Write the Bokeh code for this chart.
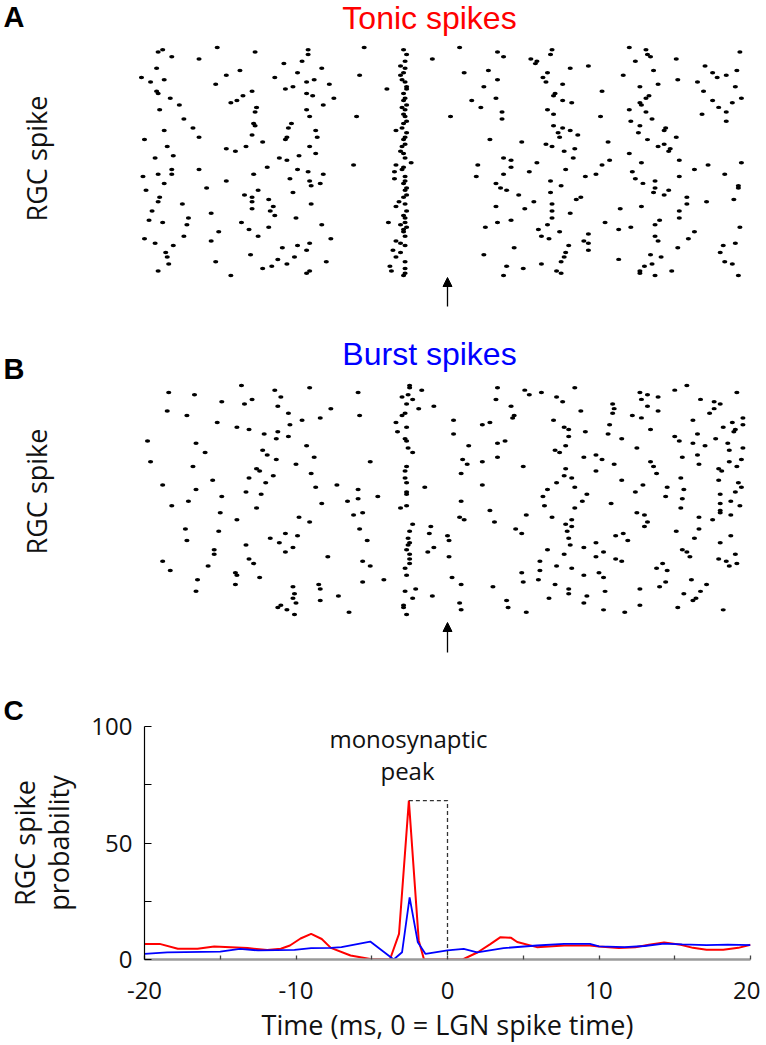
import math
from bokeh.plotting import figure
from bokeh.layouts import column
from bokeh.models import ColumnDataSource, Range1d, Label, Arrow, NormalHead, FixedTicker, Title
from bokeh.embed import file_html
from bokeh.resources import INLINE

# ---------------- DATA ----------------
# Raster A (tonic spikes): (time in ms, trial number)
tonic_left = [(-15.2,1),(-5.5,1),(-18.8,2),(-19.1,3),(-12.7,3),(-9.2,2),(-18.2,5),(-9.2,4),(-16.4,6),(-1.0,6),
 (-10.8,8),(-9.6,7),(-19.2,10),(-8.3,10),(-13.7,11),(-9.9,12),(-14.6,13),(-5.8,13),(-20.2,14),(-11.4,14),
 (-19.6,16),(-18.7,15),(-15.3,17),(-9.3,16),(-8.8,15),(-7.8,17),(-10.2,18),(-10.7,19),(-4.0,19),(-19.2,20),
 (-19.1,21),(-12.9,20),(-9.3,21),(-8.9,22),(-18.3,23),(-13.5,22),(-7.5,23),(-13.9,24),(-14.3,25),(-17.7,26),
 (-8.2,26),(-19.0,28),(-12.6,27),(-9.3,28),(-12.7,29),(-9.1,31),(-6.0,31),(-17.4,32),(-12.8,34),(-10.3,34),
 (-12.7,35),(-16.8,36),(-10.5,36),(-8.7,37),(-18.7,37),(-3.4,37),(-12.9,39),(-16.4,40),(-10.6,40),(-8.6,40),
 (-20.0,41),(-10.7,41),(-12.2,42),(-13.3,44),(-18.5,44),(-14.6,45),(-9.1,44),(-14.0,46),(-8.7,47),(-19.3,49),
 (-18.1,48),(-11.1,49),(-10.6,50),(-9.8,48),(-6.2,52),(-11.9,53),(-18.2,54),(-9.9,54),(-18.2,56),(-16.4,54),
 (-9.2,55),(-8.2,56),(-20.1,57),(-19.1,56),(-12.8,56),(-14.6,59),(-10.4,58),(-9.1,59),(-18.7,60),(-9.0,61),
 (-8.4,60),(-15.9,62),(-19.9,63),(-12.5,63),(-10.2,64),(-13.4,65),(-12.9,66),(-19.0,66),(-11.8,67),(-19.1,68),
 (-12.9,68),(-17.5,69),(-9.0,69),(-11.5,70),(-12.9,71),(-19.5,72),(-11.7,72),(-11.4,74),(-15.6,73),(-17.1,75),
 (-10.0,75),(-19.7,76),(-18.8,77),(-13.6,77),(-17.2,78),(-8.3,78),(-3.9,77),(-11.8,79),(-13.1,80),(-15.1,81),
 (-17.4,83),(-12.5,83),(-20.0,84),(-7.7,84),(-15.6,85),(-19.3,86),(-9.1,86),(-18.1,87),(-9.9,87),(-10.9,88),
 (-9.3,89),(-18.6,90),(-18.5,92),(-13.0,91),(-10.1,92),(-11.2,93),(-18.4,95),(-15.3,94),(-10.6,95),(-8.0,94),
 (-11.6,96),(-12.2,97),(-19.1,98),(-9.1,98),(-9.3,99),(-14.3,100)]
tonic_peak = [(-2.9,2),(-2.7,4),(-2.8,7),(-3.1,9),(-2.8,10),(-2.9,12),(-3.1,13),(-3.0,15),(-2.8,16),(-2.7,18),
 (-2.7,19),(-2.9,21),(-2.8,23),(-2.9,24),(-2.7,26),(-3.0,27),(-2.8,28),(-2.9,30),(-2.8,31),(-2.7,33),(-2.9,34),
 (-3.0,36),(-2.7,38),(-2.8,40),(-2.9,41),(-2.8,43),(-3.0,44),(-3.1,46),(-2.9,47),(-2.8,49),(-2.4,51),(-3.4,52),
 (-2.9,53),(-3.0,54),(-3.5,55),(-2.8,57),(-3.5,58),(-2.8,59),(-2.9,60),(-2.7,62),(-2.8,63),(-2.7,65),(-2.9,66),
 (-3.2,68),(-2.8,69),(-3.4,70),(-2.7,72),(-2.9,74),(-2.8,75),(-2.8,77),(-3.1,78),(-2.7,79),(-2.9,80),(-2.9,81),
 (-2.8,83),(-3.4,85),(-3.1,86),(-2.8,87),(-3.6,89),(-3.1,90),(-3.4,92),(-2.8,94),(-3.8,96),(-2.8,97),(-3.7,98),
 (-2.8,99),(-2.9,100)]
tonic_right = [(0.8,1),(3.3,3),(3.7,5),(6.9,2),(6.8,4),(5.5,6),(5.9,7),(5.8,8),(12.0,1),(13.1,2),(13.2,4),(13.4,5),
 (12.4,7),(15.1,6),(19.3,3),(1.1,12),(2.7,11),(3.3,15),(6.3,14),(6.6,12),(6.5,16),(8.1,10),(9.3,9),(11.6,13),
 (13.6,11),(13.9,17),(15.2,15),(17.0,9),(17.5,12),(17.8,14),(18.4,13),(19.1,11),(16.5,16),(19.0,18),(2.4,18),
 (7.6,17),(10.2,20),(12.7,18),(1.6,24),(3.2,23),(2.2,27),(7.1,21),(7.0,22),(7.6,24),(8.2,25),(13.1,23),(13.3,22),
 (12.7,25),(12.8,26),(16.9,20),(17.5,24),(18.8,25),(19.4,23),(17.9,27),(0.2,31),(3.6,29),(3.6,32),(6.6,28),
 (7.0,30),(10.1,31),(12.0,28),(13.1,29),(13.5,32),(16.8,30),(18.4,29),(18.4,33),(12.1,33),(12.7,35),(7.0,35),
 (7.6,36),(8.1,37),(7.3,38),(7.4,40),(8.6,39),(12.6,38),(14.4,36),(14.3,37),(15.1,40),(2.8,41),(4.9,42),(10.6,42),
 (13.2,41),(6.5,43),(6.9,44),(7.7,46),(8.4,45),(8.3,49),(13.9,44),(14.3,43),(14.7,45),(14.6,46),(12.0,47),(3.7,49),
 (4.2,50),(4.2,53),(5.9,51),(2.0,52),(1.9,57),(7.8,54),(10.2,52),(10.7,50),(12.8,51),(15.3,50),(16.3,54),(17.2,52),
 (19.4,51),(5.4,55),(3.7,56),(9.1,57),(9.8,56),(12.2,55),(12.4,58),(15.3,57),(18.3,56),(3.2,60),(3.5,62),(3.9,63),
 (6.8,59),(7.5,61),(6.8,64),(4.7,65),(12.9,60),(13.7,59),(13.7,62),(13.6,64),(14.3,65),(14.6,63),(19.2,61),(19.2,62),
 (3.2,70),(5.1,71),(5.7,68),(6.9,69),(6.9,72),(6.9,75),(8.1,73),(8.5,67),(8.8,66),(11.4,71),(12.8,70),(15.8,66),
 (15.8,69),(15.3,72),(15.3,75),(17.1,68),(18.9,67),(2.5,79),(3.3,77),(4.2,76),(6.0,80),(6.6,78),(6.2,83),(6.7,84),
 (7.4,81),(9.3,82),(9.0,85),(9.3,86),(9.3,89),(8.0,87),(7.8,90),(7.7,92),(10.4,77),(11.3,80),(12.1,79),(13.7,78),
 (14.0,76),(13.7,83),(13.9,85),(16.3,81),(15.9,84),(19.3,79),(2.4,91),(4.4,88),(3.9,96),(5.0,97),(6.2,95),(7.5,94),
 (7.2,98),(7.5,99),(3.7,100),(11.3,93),(13.4,91),(14.1,92),(13.5,95),(13.0,96),(12.7,98),(12.7,99),(13.7,100),
 (15.2,88),(14.8,98),(18.0,90),(18.2,87),(19.0,86),(18.3,94),(18.8,95),(19.2,100)]

# Raster B (burst spikes): (time in ms, trial number)
burst_left = [(-18.4,4),(-16.7,5),(-14.9,8),(-13.6,1),(-13.4,9),(-12.9,7),(-11.4,3),(-11.0,6),(-11.2,10),(-9.1,2),
 (-7.7,11),(-5.9,4),(-5.8,14),(-18.5,12),(-17.2,14),(-15.2,17),(-13.9,19),(-13.1,20),(-12.1,22),(-11.2,21),
 (-10.5,13),(-10.4,18),(-10.5,23),(-11.3,24),(-9.6,16),(-8.4,15),(-9.3,27),(-19.8,25),(-16.6,26),(-16.0,30),
 (-12.2,29),(-11.9,31),(-11.3,33),(-8.8,32),(-10.0,35),(-19.6,34),(-16.8,36),(-12.6,37),(-12.4,38),(-11.5,40),
 (-9.0,39),(-13.1,41),(-12.0,43),(-15.5,42),(-18.8,44),(-16.6,46),(-14.9,49),(-13.3,47),(-12.3,48),(-8.7,45),
 (-7.3,44),(-5.9,46),(-5.1,34),(-4.6,49),(-5.9,50),(-6.6,51),(-8.3,52),(-18.2,53),(-17.1,51),(-12.6,54),
 (-15.0,56),(-13.9,59),(-9.8,58),(-9.1,60),(-6.2,57),(-5.6,56),(-17.3,63),(-17.2,68),(-15.1,64),(-13.3,70),
 (-11.7,67),(-11.1,69),(-10.7,65),(-9.9,66),(-10.2,71),(-10.7,73),(-7.9,75),(-5.8,63),(-5.3,68),(-15.4,72),
 (-15.4,74),(-18.8,77),(-18.3,81),(-15.8,79),(-13.1,76),(-12.8,78),(-14.0,82),(-13.9,83),(-12.4,84),(-16.5,85),
 (-14.0,87),(-16.6,90),(-10.2,88),(-10.1,91),(-8.5,87),(-8.4,89),(-5.6,77),(-5.1,79),(-5.6,86),(-4.2,85),
 (-7.2,92),(-10.2,93),(-10.0,95),(-11.2,97),(-11.0,96),(-10.6,98),(-10.1,100),(-8.4,94),(-6.5,99),(-1.0,92)]
burst_peak = [(-2.5,1),(-2.5,2),(-2.6,5),(-3.0,6),(-2.3,7),(-2.7,9),(-1.9,11),(-2.8,13),(-3.0,14),(-3.4,17),
 (-3.3,21),(-2.7,19),(-2.8,24),(-2.7,25),(-2.6,28),(-2.3,30),(-2.8,38),(-2.7,36),(-2.8,41),(-2.7,43),(-2.7,47),
 (-2.7,48),(-3.1,54),(-2.7,53),(-2.3,61),(-2.5,64),(-2.6,67),(-2.5,69),(-2.6,70),(-2.7,72),(-2.5,74),(-2.5,76),
 (-2.5,78),(-2.8,80),(-2.7,83),(-2.1,89),(-2.8,90),(-2.3,93),(-2.9,96),(-2.9,97),(-2.7,100),(-1.7,3),(-0.9,10),
 (-1.5,45),(-1.1,62),(-1.2,65),(-0.9,71),(-1.3,73)]
burst_right = [(3.3,2),(3.2,7),(4.2,10),(4.4,14),(4.3,15),(0.4,16),(0.4,22),(2.3,18),(2.8,17),(1.4,27),(3.3,26),
 (3.8,25),(3.3,32),(1.0,33),(1.3,35),(2.3,34),(0.9,39),(5.0,36),(2.3,44),(0.9,51),(0.8,58),(1.1,59),(2.8,55),
 (3.1,60),(0.0,66),(0.1,68),(0.1,75),(0.3,84),(0.9,87),(3.0,88),(4.5,63),(4.9,65),(5.2,57),(5.1,3),(5.4,5),(6.2,4),
 (7.2,6),(7.6,8),(8.4,2),(8.8,12),(7.0,16),(7.7,19),(8.0,20),(8.0,23),(7.8,27),(9.1,21),(7.1,29),(7.4,30),(9.0,32),
 (9.8,31),(10.2,33),(9.8,38),(7.8,37),(7.7,40),(8.2,41),(7.2,43),(8.4,45),(6.6,46),(9.2,48),(6.3,49),(8.9,51),
 (6.4,53),(8.4,54),(10.8,52),(6.9,58),(8.2,59),(7.8,61),(8.2,62),(7.9,64),(8.0,67),(8.1,70),(9.0,71),(7.7,74),
 (6.6,72),(9.8,69),(10.3,73),(9.8,75),(6.1,77),(6.1,81),(7.2,79),(8.2,80),(9.0,83),(10.0,82),(10.3,84),(4.9,82),
 (5.0,86),(6.0,85),(7.1,87),(8.0,89),(8.0,91),(10.4,90),(10.9,9),(11.0,11),(10.9,13),(10.7,18),(10.6,22),(12.2,14),
 (11.5,24),(12.7,4),(12.8,7),(13.2,5),(13.2,10),(13.9,6),(13.9,12),(12.8,15),(13.4,20),(12.5,28),(11.0,35),(11.5,42),
 (13.4,34),(13.6,36),(13.8,39),(12.9,44),(12.4,47),(11.1,66),(11.6,65),(11.9,68),(12.5,56),(13.0,57),(13.2,60),
 (13.0,62),(11.1,76),(11.5,77),(15.0,3),(15.8,1),(16.7,7),(17.6,8),(18.0,9),(17.6,11),(17.3,13),(16.2,16),(15.0,23),
 (15.3,25),(16.2,26),(16.5,22),(17.0,27),(17.7,24),(15.5,32),(16.5,31),(16.6,35),(15.4,41),(14.5,45),(15.6,46),
 (14.4,49),(15.5,50),(15.4,54),(16.6,58),(17.5,59),(16.6,63),(15.1,64),(16.3,67),(15.5,72),(15.8,73),(16.0,75),
 (14.2,78),(13.8,80),(14.5,81),(12.7,89),(14.0,88),(14.4,86),(15.6,91),(16.1,85),(17.1,87),(19.1,4),(19.5,15),
 (19.5,18),(18.8,17),(18.2,19),(19.0,20),(18.9,21),(18.5,26),(18.6,29),(19.5,28),(18.6,34),(19.4,33),(19.1,36),
 (17.9,37),(18.1,38),(17.9,42),(18.0,48),(18.0,52),(18.0,55),(18.0,56),(18.7,51),(18.7,57),(19.0,47),(19.2,43),
 (19.4,45),(19.3,53),(18.0,69),(18.7,66),(17.9,76),(18.4,77),(18.6,79),(19.1,78),(19.0,74),(9.2,92),(16.7,90),
 (16.2,94),(16.4,93),(0.8,95),(0.9,98),(3.9,94),(4.0,97),(5.2,99),(6.7,93),(9.0,95),(10.3,98),(11.7,99),(12.7,96),
 (15.2,97),(18.2,98)]

# Panel C: RGC spike probability (%) vs time (ms)
tonic_time = [-20, -19, -17.8, -16.5, -15.4, -14.3, -13.2, -11.9, -11, -10.4, -9.7, -9, -8.3, -7.7, -6.4, -5.1,
              -3.8, -3.2, -2.55, -1.9, -1.55, 0, 1.0, 2.0, 2.8, 3.5, 4.2, 4.6, 5.9, 7.7, 9.4, 10, 11.3, 12.4,
              13.3, 14.3, 15.4, 16.2, 17.1, 18.2, 19.2, 20]
tonic_prob = [6.7, 6.7, 4.6, 4.6, 5.6, 5.3, 4.9, 4.1, 4.6, 6.0, 9.0, 11.0, 8.8, 5.0, 1.7, 0.2,
              0.0, 11.0, 68.2, 8.2, 0.0, 0.0, 0.0, 3.1, 6.5, 9.6, 9.3, 7.5, 5.3, 6.0, 6.0, 5.6, 4.9, 5.3,
              6.3, 7.3, 6.3, 5.0, 4.2, 4.2, 5.0, 6.3]
burst_time = [-20, -18.5, -15, -13.7, -12.5, -10.1, -9, -7.7, -7, -5.1, -3.55, -3.0, -2.5, -1.96, -1.45, 0,
              1.07, 1.96, 3.7, 5.9, 7.7, 9.4, 10, 11.7, 13, 14.3, 15.5, 17.1, 18.5, 20]
burst_prob = [2.4, 3.1, 3.4, 4.6, 3.9, 4.1, 4.9, 5.0, 5.3, 7.7, 0.0, 3.1, 26.7, 7.4, 2.4, 3.9,
              4.6, 3.1, 4.9, 6.0, 6.7, 6.7, 5.6, 5.3, 5.8, 6.8, 6.5, 6.2, 6.4, 6.2]

x_ticks = [-20, -15, -10, -5, 0, 5, 10, 15, 20]
x_tick_labels = ["-20", "", "-10", "", "0", "", "10", "", "20"]
y_ticks = [0, 25, 50, 75, 100]
y_tick_labels = ["0", "", "50", "", "100"]

# ---------------- LAYOUT (page has no margin) ----------------
W = 760
BL, BR = 144, 10
X0, X1 = -20, 20
PX_PER_MS = (W - BL - BR) / (X1 - X0)


def ms_at(page_x):
    return X0 + (page_x - BL) / PX_PER_MS


HUMAN = "Open Sans"
HELV = "Liberation Sans"
INK = "#111111"


def raster(groups, fig_top, fig_h, t1_page, t100_page, title, title_color, letter, letter_y, title_y, ylab_y,
           arrow_tip, arrow_tail):
    s = (t100_page - t1_page) / 99.0

    def tr(page_y):
        return 1 + (page_y - t1_page) / s

    p = figure(width=W, height=fig_h, x_range=Range1d(ms_at(0), ms_at(W)),
               y_range=Range1d(tr(fig_top + fig_h), tr(fig_top)),
               output_backend="svg", toolbar_location=None, title=None,
               x_axis_location=None, y_axis_location=None, frame_align=False,
               min_border_left=0, min_border_right=0, min_border_top=0, min_border_bottom=0)
    p.xgrid.visible = False
    p.ygrid.visible = False
    p.outline_line_color = None
    p.background_fill_color = "white"
    p.border_fill_color = "white"
    pts = [pt for g in groups for pt in g]
    src = ColumnDataSource(dict(t=[a for a, b in pts], trial=[b for a, b in pts]))
    p.ellipse(x="t", y="trial", width=5.2, height=3.5, width_units="screen", height_units="screen",
              fill_color="black", line_color=None, source=src)
    p.add_layout(Label(x=ms_at(3), y=tr(letter_y), text=letter, text_font=HELV, text_font_style="bold",
                       text_font_size="29px", text_align="left", text_baseline="middle", text_color="black"))
    p.add_layout(Label(x=ms_at(429), y=tr(title_y), text=title, text_font=HELV, text_font_size="32px",
                       text_align="center", text_baseline="middle", text_color=title_color))
    p.add_layout(Label(x=ms_at(35.5), y=tr(ylab_y), text="RGC spike", text_font=HUMAN, text_font_size="27px",
                       text_align="center", text_baseline="middle", angle=math.pi / 2, text_color=INK))
    p.add_layout(Arrow(end=NormalHead(size=9, fill_color="black", line_color="black", line_width=1),
                       x_start=0, y_start=tr(arrow_tail), x_end=0, y_end=tr(arrow_tip),
                       line_color="black", line_width=1.3))
    return p


pA = raster([tonic_left, tonic_peak, tonic_right], 0, 322, 47, 275, "Tonic spikes", "#ff0000", "A",
            16, 17, 158, 277, 306)
pB = raster([burst_left, burst_peak, burst_right], 322, 362, 385, 614, "Burst spikes", "#0000ff", "B",
            368, 353, 491, 622, 652)

# Panel C
C_TOP = 684
C_H = 1045 - C_TOP
FT, FB = 726, 959
pC = figure(width=W, height=C_H, x_range=Range1d(X0, X1), y_range=Range1d(0, 100),
            output_backend="svg", toolbar_location=None, title=None, frame_align=False,
            min_border_left=BL, min_border_right=BR, min_border_top=FT - C_TOP,
            min_border_bottom=C_TOP + C_H - FB)
pC.xgrid.visible = False
pC.ygrid.visible = False
pC.outline_line_color = None
pC.background_fill_color = "white"
pC.border_fill_color = "white"


def val_at(page_y):
    return (FB - page_y) / (FB - FT) * 100.0


pC.add_layout(Title(text="C", align="left", offset=3 - BL, standoff=0, vertical_align="middle",
                    text_font=HELV, text_font_style="bold", text_font_size="28px", text_color="black"), "above")

pC.xaxis.ticker = FixedTicker(ticks=x_ticks)
pC.xaxis.major_label_overrides = {t: l for t, l in zip(x_ticks, x_tick_labels)}
pC.xaxis.axis_line_color = "#9a9a9a"
pC.xaxis.axis_line_width = 2.5
pC.xaxis.major_tick_in = 4
pC.xaxis.major_tick_out = 0
pC.xaxis.major_tick_line_color = "#444444"
pC.xaxis.major_tick_line_width = 1.3
pC.xaxis.minor_tick_line_color = None
pC.xaxis.major_label_standoff = 22
pC.xaxis.major_label_text_font = HUMAN
pC.xaxis.major_label_text_font_size = "24px"
pC.xaxis.major_label_text_color = INK
pC.xaxis.axis_label = "Time (ms, 0 = LGN spike time)"
pC.xaxis.axis_label_text_font = HUMAN
pC.xaxis.axis_label_text_font_size = "27px"
pC.xaxis.axis_label_text_font_style = "normal"
pC.xaxis.axis_label_text_color = INK
pC.xaxis.axis_label_standoff = 4

pC.yaxis.ticker = FixedTicker(ticks=y_ticks)
pC.yaxis.major_label_overrides = {t: l for t, l in zip(y_ticks, y_tick_labels)}
pC.yaxis.axis_line_color = "black"
pC.yaxis.axis_line_width = 1.2
pC.yaxis.major_tick_in = 7
pC.yaxis.major_tick_out = 0
pC.yaxis.major_tick_line_color = "black"
pC.yaxis.minor_tick_line_color = None
pC.yaxis.major_label_standoff = 12
pC.yaxis.major_label_text_font = HUMAN
pC.yaxis.major_label_text_font_size = "24px"
pC.yaxis.major_label_text_color = INK
pC.yaxis.axis_label = "RGC spike\nprobability"
pC.yaxis.axis_label_text_font = HUMAN
pC.yaxis.axis_label_text_font_size = "27px"
pC.yaxis.axis_label_text_font_style = "normal"
pC.yaxis.axis_label_text_line_height = 0.92
pC.yaxis.axis_label_text_color = INK
pC.yaxis.axis_label_standoff = 11

pC.line(tonic_time, tonic_prob, line_color="#ff0000", line_width=2)
pC.line(burst_time, burst_prob, line_color="#0000ff", line_width=1.8)
pk = max(range(len(tonic_prob)), key=lambda i: tonic_prob[i])
pC.line([tonic_time[pk], 0, 0], [tonic_prob[pk], tonic_prob[pk], 0], line_color="#333333",
        line_width=1.3, line_dash="4 3")

pC.add_layout(Label(x=ms_at(408), y=val_at(738), text="monosynaptic", text_font=HUMAN, text_font_size="24px",
                    text_align="center", text_baseline="middle", text_color=INK))
pC.add_layout(Label(x=ms_at(407), y=val_at(770), text="peak", text_font=HUMAN, text_font_size="24px",
                    text_align="center", text_baseline="middle", text_color=INK))

layout = column(pA, pB, pC)
open("out.html", "w").write(file_html(layout, INLINE))
